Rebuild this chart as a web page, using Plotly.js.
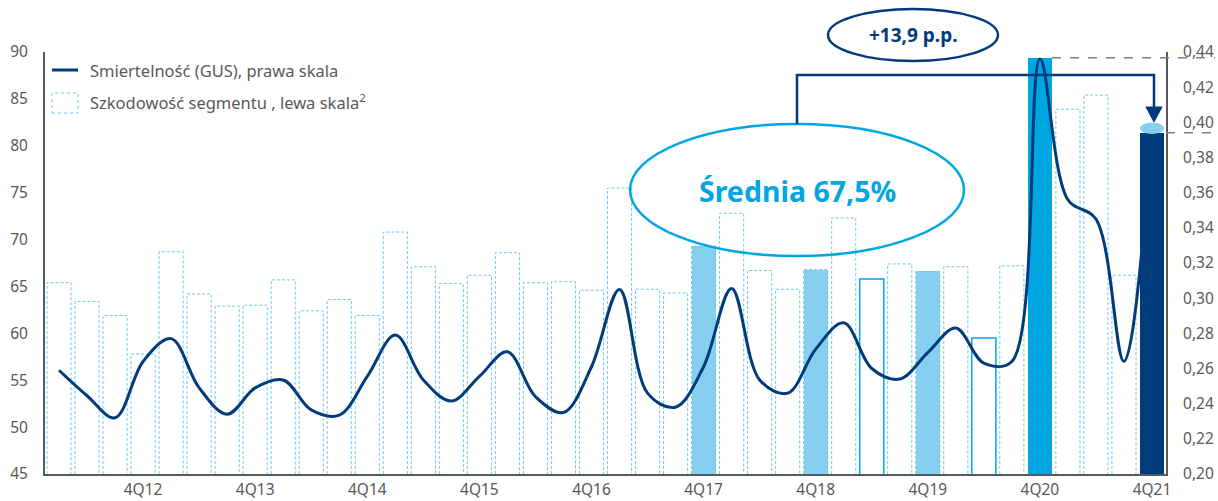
<!DOCTYPE html>
<html>
<head>
<meta charset="utf-8">
<script src="https://cdn.plot.ly/plotly-3.0.1.min.js"></script>
<style>html,body{margin:0;padding:0;background:#fff;}#chart{width:1218px;height:501px;}</style>
</head>
<body>
<div id="chart"></div>
<script>
// ---- data ----
const quarters = [];
for (let y = 12; y <= 21; y++) for (let q = 1; q <= 4; q++) quarters.push(q + 'Q' + y);

// Szkodowość segmentu (%), lewa skala
const lossRatio = [65.4, 63.4, 61.9, 57.8, 68.7, 64.2, 62.9, 63.0, 65.7, 62.4,
                   63.6, 61.9, 70.8, 67.1, 65.3, 66.2, 68.6, 65.4, 65.5, 64.6,
                   75.5, 64.7, 64.3, 69.3, 72.8, 66.7, 64.7, 66.8, 72.3, 65.8,
                   67.4, 66.6, 67.1, 59.5, 67.2, 89.4, 83.9, 85.4, 66.2, 81.4];

// Śmiertelność (GUS), prawa skala
const mortality = [0.259, 0.2445, 0.232, 0.264, 0.277, 0.249, 0.234, 0.249, 0.2535, 0.2365,
                   0.2335, 0.2555, 0.279, 0.2535, 0.2415, 0.2555, 0.2695, 0.244, 0.235, 0.261,
                   0.305, 0.246, 0.238, 0.261, 0.3055, 0.2535, 0.246, 0.271, 0.286, 0.260,
                   0.254, 0.269, 0.283, 0.263, 0.264, 0.436, 0.356, 0.345, 0.264, 0.398];

const tickLabels = quarters.filter(q => q.startsWith('4Q'));
const legendNames = ['Smiertelność (GUS), prawa skala', 'Szkodowość segmentu , lewa skala<sup>2</sup>'];
const avgText = 'Średnia 67,5%';
const diffText = '+13,9 p.p.';

// ---- styles ----
const NAVY = '#003b7b', BRIGHT = '#00a6e1', LIGHT = '#87cfee', DASHC = '#6fcaf0', GREY = '#595959';
const lightIdx = [23, 27, 31], brightIdx = [35], navyIdx = [39], solidOutlineIdx = [29, 33];
const BW = 0.86, hw = BW / 2;

const xs = quarters.map((q, i) => i);
const tickVals = quarters.map((q, i) => i).filter(i => quarters[i].startsWith('4Q'));

const barColors = lossRatio.map((v, i) =>
  navyIdx.includes(i) ? NAVY : brightIdx.includes(i) ? BRIGHT : lightIdx.includes(i) ? LIGHT : '#ffffff');

function outline(idxs) {
  const ox = [], oy = [];
  idxs.forEach(i => {
    ox.push(i - hw, i - hw, i + hw, i + hw, null);
    oy.push(45, lossRatio[i], lossRatio[i], 45, null);
  });
  return { x: ox, y: oy };
}
const dashedIdx = xs.filter(i => !brightIdx.includes(i) && !navyIdx.includes(i) && !solidOutlineIdx.includes(i));
const dashedO = outline(dashedIdx), solidO = outline(solidOutlineIdx);

const traces = [
  { type: 'bar', x: xs, y: lossRatio, width: BW, marker: { color: barColors, line: { width: 0 } },
    hoverinfo: 'skip', showlegend: false },
  { type: 'scatter', mode: 'lines', x: dashedO.x, y: dashedO.y, line: { color: DASHC, width: 1, dash: '3px,2px' },
    hoverinfo: 'skip', showlegend: false },
  { type: 'scatter', mode: 'lines', x: solidO.x, y: solidO.y, line: { color: BRIGHT, width: 1.5 },
    hoverinfo: 'skip', showlegend: false },
  { type: 'scatter', mode: 'lines', x: xs, y: mortality, yaxis: 'y2',
    line: { color: NAVY, width: 3, shape: 'spline', smoothing: 1 }, showlegend: false }
];

// pixel -> paper helpers (plot area 45..1166 x, 52..474 y)
const L = 45, R = 1166, T = 52, B = 474;
const px = x => (x - L) / (R - L);
const py = y => (B - y) / (B - T);
const vy = v => (v - 45) / 45; // left-axis value -> paper
const bx = i => (i + 0.5) / quarters.length;

const shapes = [
  { type: 'line', xref: 'paper', yref: 'paper', x0: bx(brightIdx[0] + hw), x1: px(1215),
    y0: vy(lossRatio[brightIdx[0]]), y1: vy(lossRatio[brightIdx[0]]), line: { color: '#7f7f7f', width: 1.5, dash: 'dash' } },
  { type: 'line', xref: 'paper', yref: 'paper', x0: 1, x1: px(1218),
    y0: vy(lossRatio[navyIdx[0]]), y1: vy(lossRatio[navyIdx[0]]), line: { color: '#7f7f7f', width: 1.5, dash: 'dash' } },
  { type: 'circle', xref: 'paper', yref: 'paper', x0: bx(navyIdx[0] - hw), x1: bx(navyIdx[0] + hw),
    y0: vy(lossRatio[navyIdx[0]]) - 0.003, y1: vy(lossRatio[navyIdx[0]]) + 0.024, fillcolor: LIGHT, line: { width: 0 } },
  { type: 'circle', xref: 'paper', yref: 'paper', x0: px(630), x1: px(964), y0: py(256), y1: py(124),
    line: { color: BRIGHT, width: 2.5 } },
  { type: 'path', xref: 'paper', yref: 'paper',
    path: `M ${px(797)},${py(124)} L ${px(797)},${py(75)} L ${px(1154)},${py(75)} L ${px(1154)},${py(108)}`,
    line: { color: NAVY, width: 2.5 } },
  { type: 'path', xref: 'paper', yref: 'paper',
    path: `M ${px(1146)},${py(107)} L ${px(1162)},${py(107)} L ${px(1154)},${py(122)} Z`,
    fillcolor: NAVY, line: { color: NAVY, width: 1 } },
  { type: 'circle', xref: 'paper', yref: 'paper', x0: px(828), x1: px(998), y0: py(61), y1: py(9),
    line: { color: NAVY, width: 2.5 } },
  { type: 'line', xref: 'paper', yref: 'paper', x0: px(52), x1: px(78), y0: py(70), y1: py(70),
    line: { color: NAVY, width: 3 } },
  { type: 'rect', xref: 'paper', yref: 'paper', x0: px(52), x1: px(78), y0: py(113), y1: py(93),
    line: { color: DASHC, width: 1, dash: 'dot' }, fillcolor: 'rgba(0,0,0,0)' }
];

const FONT = 'Noto Sans, Open Sans, sans-serif';
const annotations = [
  { xref: 'paper', yref: 'paper', x: px(797), y: py(191), text: '<b>' + avgText + '</b>', showarrow: false,
    font: { family: FONT, size: 28.5, color: BRIGHT }, xanchor: 'center', yanchor: 'middle' },
  { xref: 'paper', yref: 'paper', x: px(913), y: py(35), text: '<b>' + diffText + '</b>', showarrow: false,
    font: { family: FONT, size: 19, color: NAVY }, xanchor: 'center', yanchor: 'middle' },
  { xref: 'paper', yref: 'paper', x: px(88), y: py(71), text: legendNames[0], showarrow: false,
    font: { family: FONT, size: 16.5, color: GREY }, xanchor: 'left', yanchor: 'middle' },
  { xref: 'paper', yref: 'paper', x: px(88), y: py(102), text: legendNames[1], showarrow: false,
    font: { family: FONT, size: 16.5, color: GREY }, xanchor: 'left', yanchor: 'middle' }
];

const layout = {
  width: 1218, height: 501,
  margin: { l: L, r: 1218 - R, t: T, b: 501 - B },
  paper_bgcolor: '#fff', plot_bgcolor: '#fff',
  separators: ', ',
  font: { family: FONT, size: 15, color: GREY },
  showlegend: false,
  bargap: 0,
  xaxis: { range: [-0.5, quarters.length - 0.5], tickvals: tickVals, ticktext: tickLabels, showgrid: false, zeroline: false,
    showline: true, linecolor: GREY, linewidth: 2, ticks: '', tickfont: { size: 15.5, color: GREY }, fixedrange: true },
  yaxis: { range: [45, 90], dtick: 5, showgrid: false, zeroline: false, showline: true, linecolor: GREY, linewidth: 2,
    ticks: '', ticklabelstandoff: 12, tickfont: { size: 15.5, color: GREY } },
  yaxis2: { range: [0.2, 0.44], dtick: 0.02, tickformat: '.2f', overlaying: 'y', side: 'right', showgrid: false,
    zeroline: false, showline: true, linecolor: GREY, linewidth: 2, ticks: '', ticklabelstandoff: 12,
    tickfont: { size: 15.5, color: GREY } },
  shapes: shapes,
  annotations: annotations
};

Plotly.newPlot('chart', traces, layout, { staticPlot: true, displayModeBar: false });
</script>
</body>
</html>
